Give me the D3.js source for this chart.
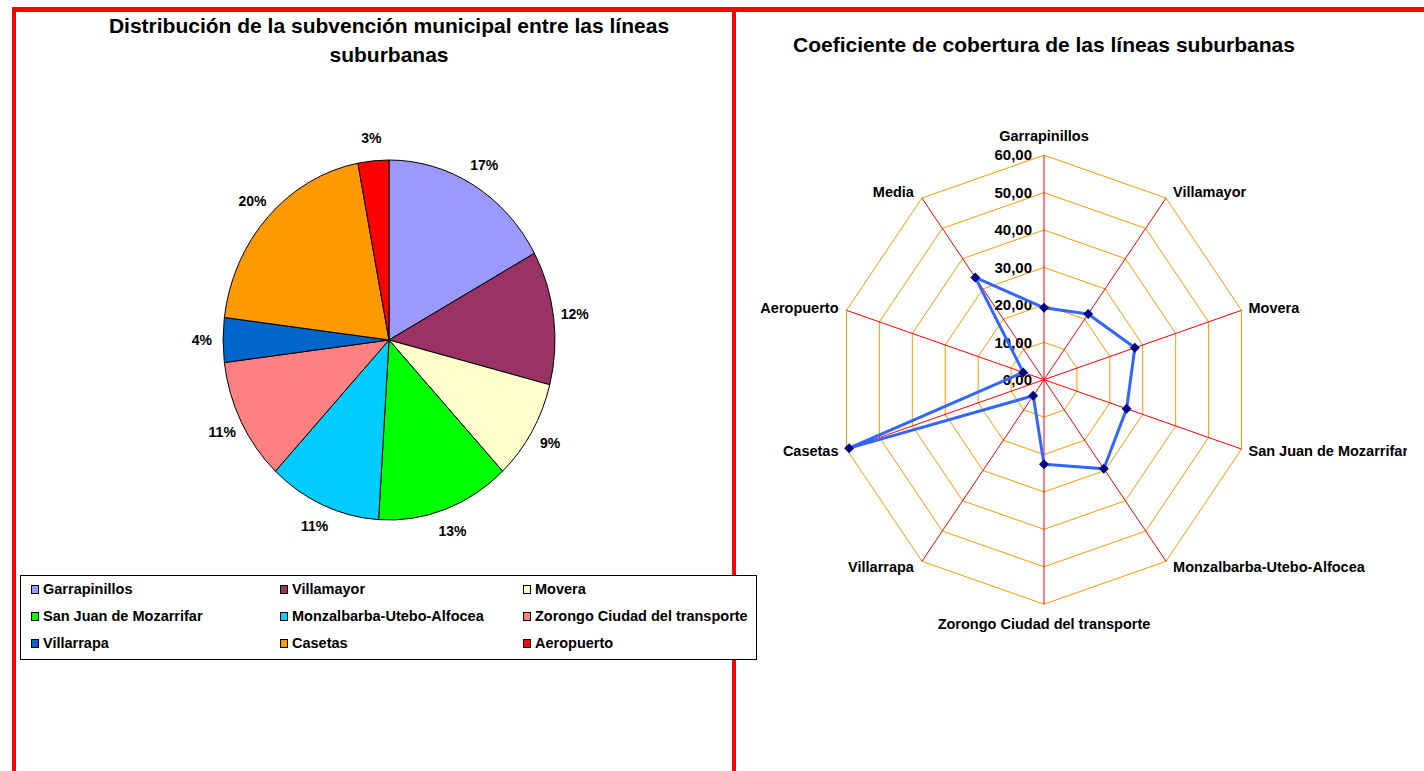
<!DOCTYPE html>
<html>
<head>
<meta charset="utf-8">
<script src="https://cdn.jsdelivr.net/npm/d3@7"></script>
<style>
  html, body { margin: 0; padding: 0; background: #fff; }
  svg { display: block; }
  text { font-family: "Liberation Sans", Arial, sans-serif; font-weight: bold; fill: #000; }
</style>
</head>
<body>
<svg id="chart" width="1424" height="771"></svg>
<script>
// Subsidy share per suburban line (percent)
const lines = ["Garrapinillos", "Villamayor", "Movera", "San Juan de Mozarrifar",
  "Monzalbarba-Utebo-Alfocea", "Zorongo Ciudad del transporte", "Villarrapa", "Casetas", "Aeropuerto"];
const subsidyShare = [17, 12, 9, 13, 11, 11, 4, 20, 3];
const lineColors = ["#9999FF", "#993366", "#FFFFCC", "#00FF00", "#00CCFF", "#FF8080", "#0066CC", "#FF9900", "#FF0000"];

// Coverage coefficient per line, plus the average
const radarAxes = ["Garrapinillos", "Villamayor", "Movera", "San Juan de Mozarrifar",
  "Monzalbarba-Utebo-Alfocea", "Zorongo Ciudad del transporte", "Villarrapa", "Casetas", "Aeropuerto", "Media"];
const coverage = [19.2, 21.7, 27.6, 25.1, 29.4, 22.6, 5.3, 59.2, 6.3, 33.8];
const radarTicks = [0, 10, 20, 30, 40, 50, 60];

const svg = d3.select("#chart");

// ---- frame ----
const frame = svg.append("g").attr("fill", "#FF0000");
frame.append("rect").attr("x", 12).attr("y", 7).attr("width", 1412).attr("height", 5);
frame.append("rect").attr("x", 12).attr("y", 7).attr("width", 4).attr("height", 764);
frame.append("rect").attr("x", 732).attr("y", 7).attr("width", 4).attr("height", 764);

// ---- pie chart ----
const pieTitle = svg.append("text").attr("text-anchor", "middle").style("font-size", "21px");
pieTitle.append("tspan").attr("x", 389).attr("y", 33).text("Distribución de la subvención municipal entre las líneas");
pieTitle.append("tspan").attr("x", 389).attr("y", 62).text("suburbanas");

const pieCx = 389, pieCy = 340, pieR = 180, pieSx = 0.922;
const pie = d3.pie().sort(null).value(d => d)(subsidyShare);
const arc = d3.arc().innerRadius(0).outerRadius(pieR);

svg.append("g")
  .attr("transform", `translate(${pieCx},${pieCy}) scale(${pieSx},1)`)
  .selectAll("path")
  .data(pie)
  .join("path")
  .attr("d", arc)
  .attr("fill", (d, i) => lineColors[i])
  .attr("stroke", "#000")
  .attr("stroke-width", 1)
  .attr("vector-effect", "non-scaling-stroke");

const labelR = 203;
svg.append("g")
  .selectAll("text")
  .data(pie)
  .join("text")
  .attr("text-anchor", "middle")
  .attr("dy", "0.35em")
  .style("font-size", "14px")
  .attr("x", d => pieCx + labelR * Math.sin((d.startAngle + d.endAngle) / 2) * pieSx)
  .attr("y", d => pieCy - labelR * Math.cos((d.startAngle + d.endAngle) / 2))
  .text(d => d.value + "%");

// ---- legend ----
const legend = svg.append("g");
legend.append("rect")
  .attr("x", 20.5).attr("y", 575.5).attr("width", 736).attr("height", 84)
  .attr("fill", "#fff").attr("stroke", "#000").attr("stroke-width", 1);
const colX = [31, 280, 523];
const rowY = [589, 616, 643];
const items = legend.selectAll("g.item")
  .data(lines)
  .join("g")
  .attr("transform", (d, i) => `translate(${colX[i % 3]},${rowY[Math.floor(i / 3)]})`);
items.append("rect")
  .attr("x", 0.5).attr("y", -3.5).attr("width", 7).attr("height", 8)
  .attr("fill", (d, i) => lineColors[i])
  .attr("stroke", "#000").attr("stroke-width", 1);
items.append("text")
  .attr("x", 12).attr("dy", "0.35em")
  .style("font-size", "14.5px")
  .text(d => d);

// ---- radar chart ----
const clip = svg.append("clipPath").attr("id", "radarClip");
clip.append("rect").attr("x", 736).attr("y", 12).attr("width", 671).attr("height", 759);
const radar = svg.append("g").attr("clip-path", "url(#radarClip)");

radar.append("text")
  .attr("x", 1044).attr("y", 52)
  .attr("text-anchor", "middle")
  .style("font-size", "21px")
  .text("Coeficiente de cobertura de las líneas suburbanas");

const rCx = 1044, rCy = 379.7, rSx = 0.925;
const rScale = d3.scaleLinear().domain([0, 60]).range([0, 224.5]);
const n = radarAxes.length;
const angle = i => (i * 2 * Math.PI) / n;
const px = (i, v) => rCx + rScale(v) * Math.sin(angle(i)) * rSx;
const py = (i, v) => rCy - rScale(v) * Math.cos(angle(i));

// grid rings
const ringLine = d3.line().x(d => d[0]).y(d => d[1]);
radar.append("g")
  .selectAll("path")
  .data(radarTicks.filter(t => t > 0))
  .join("path")
  .attr("d", t => ringLine(d3.range(n + 1).map(i => [px(i % n, t), py(i % n, t)])))
  .attr("fill", "none")
  .attr("stroke", "#FF9900")
  .attr("stroke-width", 1);

// spokes
radar.append("g")
  .selectAll("line")
  .data(radarAxes)
  .join("line")
  .attr("x1", rCx).attr("y1", rCy)
  .attr("x2", (d, i) => px(i, 60))
  .attr("y2", (d, i) => py(i, 60))
  .attr("stroke", "#FF0000")
  .attr("stroke-width", 1);

// value labels along the first spoke
const fmt = v => d3.format(".2f")(v).replace(".", ",");
radar.append("g")
  .selectAll("text")
  .data(radarTicks)
  .join("text")
  .attr("x", 1032)
  .attr("y", t => rCy - rScale(t))
  .attr("dy", "0.35em")
  .attr("text-anchor", "end")
  .style("font-size", "15px")
  .text(fmt);

// data series
radar.append("path")
  .attr("d", ringLine(d3.range(n + 1).map(i => [px(i % n, coverage[i % n]), py(i % n, coverage[i % n])])))
  .attr("fill", "none")
  .attr("stroke", "#3366FF")
  .attr("stroke-width", 3)
  .attr("stroke-linejoin", "round");

radar.append("g")
  .selectAll("path")
  .data(coverage)
  .join("path")
  .attr("d", d3.symbol(d3.symbolSquare, 50))
  .attr("transform", (v, i) => `translate(${px(i, v)},${py(i, v)}) rotate(45)`)
  .attr("fill", "#000080");

// axis labels
radar.append("g")
  .selectAll("text")
  .data(radarAxes)
  .join("text")
  .style("font-size", "14.5px")
  .attr("dy", "0.35em")
  .attr("text-anchor", (d, i) => {
    const s = Math.sin(angle(i));
    return Math.abs(s) < 0.01 ? "middle" : (s > 0 ? "start" : "end");
  })
  .attr("x", (d, i) => {
    const s = Math.sin(angle(i));
    return px(i, 60) + (Math.abs(s) < 0.01 ? 0 : (s > 0 ? 7 : -8));
  })
  .attr("y", (d, i) => {
    const c = Math.cos(angle(i));
    const off = Math.abs(Math.sin(angle(i))) < 0.01 ? 19.5 : 7 * Math.abs(c);
    return py(i, 60) - Math.sign(c) * off;
  })
  .text(d => d);
</script>
</body>
</html>
